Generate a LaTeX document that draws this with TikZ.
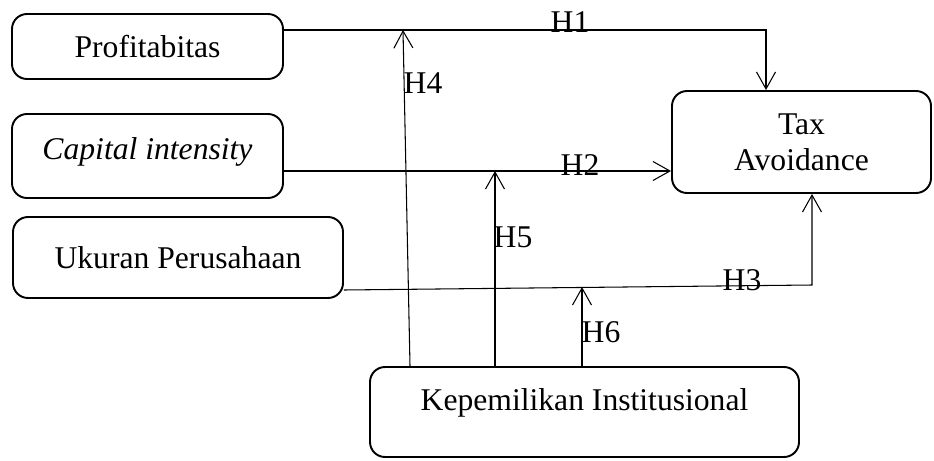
\documentclass[tikz,border=0pt]{standalone}
\usepackage{fontspec}
\setmainfont{Liberation Serif}
\usetikzlibrary{arrows.meta}
\begin{document}
\fontsize{18}{20.5}\selectfont
\begin{tikzpicture}[
	box/.style={draw, line width=1.1pt, rounded corners=0.3cm, inner sep=0pt, align=center},
	arr/.style={line width=0.6pt, -{Straight Barb[length=0.34cm, width=0.38cm, line width=0.6pt]}},
	lbl/.style={inner sep=0pt}
	]
			\useasboundingbox (0,0) rectangle (18.68, 9.2);
			
			% variabel
			\node[box, minimum width=5.42cm, minimum height=1.30cm] (prof) at (2.95, 8.27){Profitabitas};
			\node[box, minimum width=5.42cm, minimum height=1.68cm, text depth=0.3cm] (cap) at (2.95, 6.08){\textit{Capital intensity}};
			\node[box, minimum width=6.6cm, minimum height=1.62cm] (uk) at (3.56, 4.05){Ukuran Perusahaan};
			\node[box, minimum width=5.18cm, minimum height=2.04cm] (tax) at (16.03, 6.36){Tax\\Avoidance};
			\node[box, minimum width=8.58cm, minimum height=1.8cm, text depth=0.5cm] (kep) at (11.69, 0.96){Kepemilikan Institusional};
			
			% titik belok
			\coordinate (h1) at (15.32, 8.6);
			\coordinate (h2) at (0, 5.78);
			\coordinate (h3a) at (0, 3.4);
			\coordinate (h3) at (16.24, 3.5);
			\coordinate (h4a) at (8.2, 0);
			\coordinate (h4) at (8.06, 8.6);
			\coordinate (h5a) at (9.9, 0);
			\coordinate (h5) at (9.9, 5.78);
			\coordinate (h6a) at (11.64, 0);
			\coordinate (h6) at (11.64, 3.46);
			
			% hipotesis
			\draw[arr] (prof.east |- h1) -- (h1) -- (tax.north -| h1);
			\draw[arr] (cap.east |- h2) -- (tax.west |- h2);
			\draw[arr] (uk.east |- h3a) -- (h3) -- (tax.south -| h3);
			\draw[arr] (kep.north -| h4a) -- (h4);
			\draw[arr] (kep.north -| h5a) -- (h5);
			\draw[arr] (kep.north -| h6a) -- (h6);
			
			\node[lbl] (l1) at (11.4, 8.76){H1};
			\node[lbl] (l2) at (11.6, 5.9){H2};
			\node[lbl] (l3) at (14.84, 3.6){H3};
			\node[lbl] (l4) at (8.46, 7.54){H4};
			\node[lbl] (l5) at (10.26, 4.46){H5};
			\node[lbl] (l6) at (12.02, 2.56){H6};
		\end{tikzpicture}
\end{document}
